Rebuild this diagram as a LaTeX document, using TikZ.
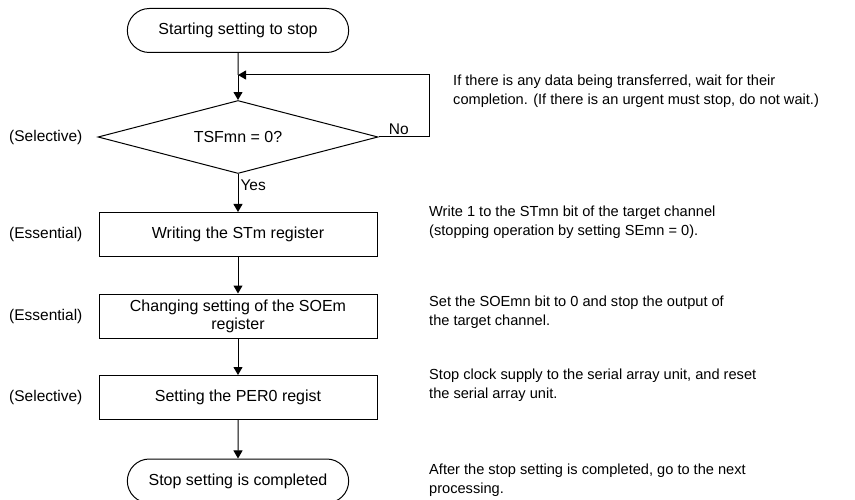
\documentclass[tikz,border=0pt]{standalone}
\usepackage{fontspec}
\setmainfont{Liberation Sans}
\usetikzlibrary{arrows.meta, shapes.geometric, shapes.misc}
\tikzset{
  flow/.style={-{Triangle[length=8pt, width=9pt]}, line width=1pt},
  term/.style={rounded rectangle, draw, line width=1pt, minimum width=228pt, minimum height=44pt, font=\fontsize{16}{18}\selectfont},
  proc/.style={rectangle, draw, line width=1pt, minimum width=278pt, minimum height=44pt, inner sep=2pt, align=center, font=\fontsize{16}{18}\selectfont},
  decide/.style={diamond, draw, line width=1pt, minimum width=280pt, minimum height=73pt, aspect=3.8, inner sep=0pt, font=\fontsize{16}{18}\selectfont},
  kind/.style={anchor=west, inner sep=0pt, font=\fontsize{15.5}{18}\selectfont},
  note/.style={anchor=north west, align=left, inner sep=0pt, font=\fontsize{14.6}{19}\selectfont},
  tag/.style={inner sep=2pt, font=\fontsize{15.5}{18}\selectfont}
}

\begin{document}
\begin{tikzpicture}[x=1pt, y=-1pt]
\useasboundingbox (0,0) rectangle (855,500);

\node[term] (start) at (238,30.5) {Starting setting to stop};
\node[decide] (chk) at (238,137) {TSFmn = 0?};
\node[proc] (stm) at (238,234.5) {Writing the STm register};
\node[proc] (soe) at (238,316) {Changing setting of the SOEm\\register};
\node[proc] (per) at (238,397.5) {Setting the PER0 regist};
\node[term] (done) at (238,481) {Stop setting is completed};

\coordinate (back) at (238,75);
\draw[line width=1pt] (start) -- (back);
\draw[flow] (back) -- (chk);
\draw[flow] (chk.east) -- node[tag, pos=.4, above] {No} ++(51,0) |- (back);
\draw[flow] (chk) -- node[tag, pos=.3, right] {Yes} (stm);
\draw[flow] (stm) -- (soe);
\draw[flow] (soe) -- (per);
\draw[flow] (per) -- (done);

\node[kind] (k1) at (9,137) {(Selective)};
\node[kind] (k2) at (9,234.5) {(Essential)};
\node[kind] (k3) at (9,316) {(Essential)};
\node[kind] (k4) at (9,397.5) {(Selective)};

\node[note] (n1) at (453,75) {If there is any data being transferred, wait for their\\completion. (If there is an urgent must stop, do not wait.)};
\node[note] (n2) at (429,206) {Write 1 to the STmn bit of the target channel\\(stopping operation by setting SEmn = 0).};
\node[note] (n3) at (429,296) {Set the SOEmn bit to 0 and stop the output of\\the target channel.};
\node[note] (n4) at (429,369) {Stop clock supply to the serial array unit, and reset\\the serial array unit.};
\node[note] (n5) at (429,464) {After the stop setting is completed, go to the next\\processing.};
\end{tikzpicture}
\end{document}
